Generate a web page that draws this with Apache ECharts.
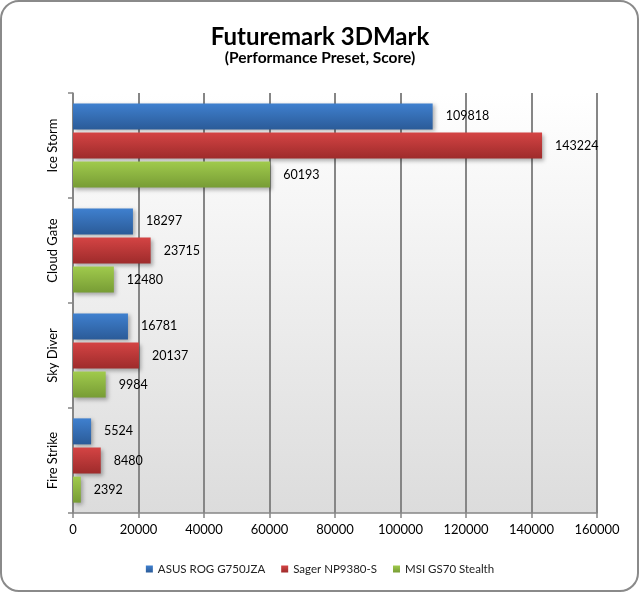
<!DOCTYPE html>
<html><head><meta charset="utf-8">
<script src="https://cdn.jsdelivr.net/npm/echarts@6/dist/echarts.min.js"></script>
<style>html,body{margin:0;padding:0;background:#fff}#c{width:640px;height:593px}</style>
</head><body><div id="c"></div>
<script>
const categories = ["Ice Storm", "Cloud Gate", "Sky Diver", "Fire Strike"];
const seriesNames = ["ASUS ROG G750JZA", "Sager NP9380-S", "MSI GS70 Stealth"];
const asus = [109818, 18297, 16781, 5524];
const sager = [143224, 23715, 20137, 8480];
const msi = [60193, 12480, 9984, 2392];
const xTicks = [0, 20000, 40000, 60000, 80000, 100000, 120000, 140000, 160000];

const FONT = "Lato, 'Liberation Sans', sans-serif";
const grads = [
  ["#3f80cf", "#2b5b98"],
  ["#d44444", "#9e2b2b"],
  ["#a0ca4c", "#779c35"]
];
function grad(c){return new echarts.graphic.LinearGradient(0,0,0,1,[{offset:0,color:c[0]},{offset:1,color:c[1]}]);}
const dataSets = [asus, sager, msi];
const chart = echarts.init(document.getElementById('c'), null, {renderer:'canvas'});
chart.setOption({
  animation:false,
  backgroundColor:'#fff',
  color:['#3a75c0','#c43c3c','#93bd45'],
  graphic:[{type:'rect',shape:{x:1,y:1,width:637,height:590,r:18},style:{fill:'none',stroke:'#8a8a8a',lineWidth:2},z:-1}],
  title:[
    {text:'Futuremark 3DMark',left:'center',top:20,textStyle:{fontFamily:FONT,fontSize:24,fontWeight:'bold',color:'#000'}},
    {text:'(Performance Preset, Score)',left:'center',top:45,textStyle:{fontFamily:FONT,fontSize:15.5,fontWeight:'bold',color:'#000'}}
  ],
  legend:{top:558,left:'center',itemWidth:7,itemHeight:7,itemGap:16,icon:'rect',
    textStyle:{fontFamily:FONT,fontSize:11.5,color:'#222'},data:seriesNames},
  grid:{left:73,right:43,top:93,bottom:80,show:true,borderWidth:0,
    backgroundColor:new echarts.graphic.LinearGradient(0,0,0,1,[{offset:0,color:'#ffffff'},{offset:1,color:'#dcdcdc'}])},
  xAxis:{type:'value',min:0,max:160000,interval:20000,
    axisLine:{show:true,lineStyle:{color:'#868686',width:1.5}},
    axisTick:{show:true,length:5,lineStyle:{color:'#868686',width:1.5}},
    splitLine:{show:true,lineStyle:{color:'#868686',width:2}},
    axisLabel:{fontFamily:FONT,fontSize:13,color:'#000',margin:10,
      formatter:v=>xTicks.includes(v)?String(v):''}},
  yAxis:{type:'category',data:categories,inverse:true,
    axisLine:{show:true,lineStyle:{color:'#868686',width:1.5}},
    axisTick:{show:true,length:5,lineStyle:{color:'#868686',width:1.5}},
    axisLabel:{rotate:90,fontFamily:FONT,fontSize:13,color:'#000',margin:14}},
  series:seriesNames.map((n,i)=>({
    name:n,type:'bar',data:dataSets[i],barWidth:26,barGap:'12%',barCategoryGap:'20%',
    itemStyle:{color:grad(grads[i]),shadowBlur:4,shadowOffsetX:2,shadowOffsetY:2,shadowColor:'rgba(0,0,0,0.3)'},
    label:{show:true,position:'right',distance:13,fontFamily:FONT,fontSize:12.5,color:'#000'}
  }))
});
</script></body></html>
